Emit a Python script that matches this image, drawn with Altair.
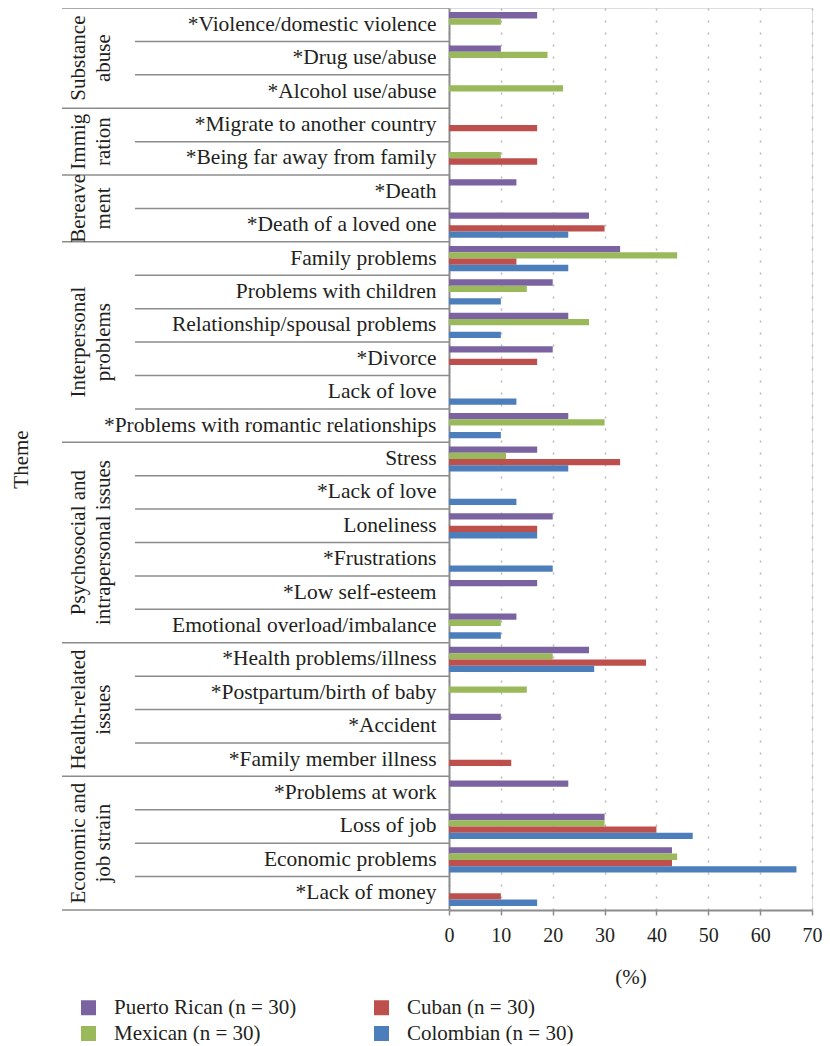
import altair as alt
import pandas as pd

FONT = "Liberation Serif, Times New Roman, serif"
TXT = "#231f20"
LINE = "#8c8c8c"

rows = [
    "*Violence/domestic violence", "*Drug use/abuse", "*Alcohol use/abuse",
    "*Migrate to another country", "*Being far away from family",
    "*Death", "*Death of a loved one",
    "Family problems", "Problems with children", "Relationship/spousal problems",
    "*Divorce", "Lack of love", "*Problems with romantic relationships",
    "Stress", "*Lack of love", "Loneliness", "*Frustrations", "*Low self-esteem",
    "Emotional overload/imbalance",
    "*Health problems/illness", "*Postpartum/birth of baby", "*Accident",
    "*Family member illness",
    "*Problems at work", "Loss of job", "Economic problems", "*Lack of money",
]

group_labels = [
    "Substance\nabuse", "Immig\nration", "Bereave\nment", "Interpersonal\nproblems",
    "Psychosocial and\nintrapersonal issues", "Health-related\nissues",
    "Economic and\njob strain",
]
group_sizes = [3, 2, 2, 6, 6, 4, 4]

series = ["Puerto Rican (n = 30)", "Mexican (n = 30)", "Cuban (n = 30)", "Colombian (n = 30)"]
colors = ["#7b62a0", "#9ab95a", "#bd504c", "#4b7eba"]

puerto_rican = [17, 10, 0, 0, 0, 13, 27, 33, 20, 23, 20, 0, 23, 17, 0, 20, 0, 17, 13, 27, 0, 10, 0, 23, 30, 43, 0]
mexican = [10, 19, 22, 0, 10, 0, 0, 44, 15, 27, 0, 0, 30, 11, 0, 0, 0, 0, 10, 20, 15, 0, 0, 0, 30, 44, 0]
cuban = [0, 0, 0, 17, 17, 0, 30, 13, 0, 0, 17, 0, 0, 33, 0, 17, 0, 0, 0, 38, 0, 0, 12, 0, 40, 43, 10]
colombian = [0, 0, 0, 0, 0, 0, 23, 23, 10, 10, 0, 13, 10, 23, 13, 17, 20, 0, 10, 28, 0, 0, 0, 0, 47, 67, 17]

x_ticks = [0, 10, 20, 30, 40, 50, 60, 70]

# ---- tables built from the arrays ----
recs = []
for s, vals in zip(series, [puerto_rican, mexican, cuban, colombian]):
    for r, v in zip(rows, vals):
        if v > 0:
            recs.append({"theme": r, "series": s, "value": v})
df = pd.DataFrame(recs)

starts = []
acc = 0
for n in group_sizes:
    starts.append(acc)
    acc += n
group_start_rows = [rows[i] for i in starts]
sep_df = pd.DataFrame({"theme": rows, "start": [r in group_start_rows for r in rows]})
bottom_df = pd.DataFrame({"theme": [rows[-1]]})
gdf = pd.DataFrame({"label": group_labels,
                    "mid": [s + n / 2 for s, n in zip(starts, group_sizes)]})

yscale = alt.Scale(domain=rows, paddingInner=0, paddingOuter=0)

bars = alt.Chart(df).mark_bar().encode(
    x=alt.X("value:Q", scale=alt.Scale(domain=[0, 70], nice=False),
            axis=alt.Axis(values=x_ticks, grid=True, gridDash=[2, 10], gridColor="#b8b8b8",
                          gridWidth=1.5, domainColor=LINE, domainWidth=2, tickColor=LINE,
                          tickSize=5, tickWidth=1.5, labelFont=FONT, labelFontSize=20,
                          labelColor=TXT, labelPadding=10, labelFlush=False, title="(%)",
                          titleFont=FONT, titleFontSize=21, titleFontWeight="normal",
                          titleColor=TXT, titlePadding=21)),
    y=alt.Y("theme:N", scale=yscale, sort=rows,
            axis=alt.Axis(title="Theme", ticks=False, domainColor=LINE, domainWidth=2,
                          labelFont=FONT, labelFontSize=21.5, labelColor=TXT, labelPadding=13,
                          labelLimit=400, titleX=-428, titleY=451, titleAngle=270,
                          titleAlign="center", titleBaseline="middle", titleFont=FONT,
                          titleFontSize=21, titleFontWeight="normal", titleColor=TXT)),
    yOffset=alt.YOffset("series:N", scale=alt.Scale(domain=series, paddingOuter=0.65, paddingInner=0)),
    color=alt.Color("series:N", scale=alt.Scale(domain=series, range=colors),
                    legend=alt.Legend(orient="none", legendX=-371, legendY=989, columns=2,
                                      symbolType="square", symbolSize=225, symbolStrokeWidth=0,
                                      labelFont=FONT, labelFontSize=21, labelColor=TXT,
                                      labelOffset=15, columnPadding=74, rowPadding=4,
                                      labelLimit=400, title=None)),
)

inner = alt.Chart(sep_df).transform_filter("!datum.start").mark_rule(
    color=LINE, strokeWidth=1.5).encode(
    y=alt.Y("theme:N", bandPosition=0, scale=yscale, sort=rows, axis=None),
    x=alt.value(-314), x2=alt.value(0))

outer = alt.Chart(sep_df).transform_filter("datum.start").mark_rule(
    color=LINE, strokeWidth=1.5).encode(
    y=alt.Y("theme:N", bandPosition=0, scale=yscale, sort=rows, axis=None),
    x=alt.value(-387), x2=alt.value(0))

bottom = alt.Chart(bottom_df).mark_rule(color=LINE, strokeWidth=1.5).encode(
    y=alt.Y("theme:N", bandPosition=1, scale=yscale, sort=rows, axis=None),
    x=alt.value(-387), x2=alt.value(0))

glab = alt.Chart(gdf).mark_text(angle=270, align="center", baseline="middle", lineBreak="\n",
                                lineHeight=25, font=FONT, fontSize=21, color=TXT).encode(
    y=alt.Y("mid:Q", scale=alt.Scale(domain=[0, 27], reverse=True, nice=False, zero=False), axis=None),
    x=alt.value(-370), text="label:N")

chart = alt.layer(bars, inner, outer, bottom, glab).resolve_scale(y="independent").properties(
    width=363, height=902,
    autosize=alt.AutoSizeParams(type="none"),
    padding={"left": 441, "top": 0, "right": 10, "bottom": 136},
).configure_view(stroke=None).configure(background="white")

chart.save("out.html", embed_options={"renderer": "svg", "actions": False})
